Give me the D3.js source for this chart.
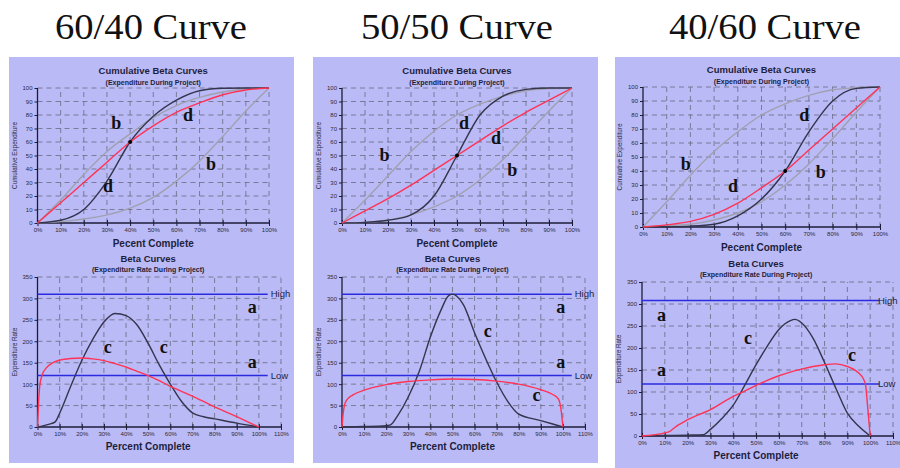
<!DOCTYPE html>
<html>
<head>
<meta charset="utf-8">
<script src="https://cdnjs.cloudflare.com/ajax/libs/d3/7.8.5/d3.min.js"></script>
<style>
  body { margin: 0; background: #fff; }
  svg { display: block; }
</style>
</head>
<body>
<svg id="chart" width="900" height="468"></svg>
<script>
// ---- data ----
const panelNames = ["60/40 Curve", "50/50 Curve", "40/60 Curve"];
const cumTicks = [0, 10, 20, 30, 40, 50, 60, 70, 80, 90, 100];
const pctTicksCum = [0, 10, 20, 30, 40, 50, 60, 70, 80, 90, 100];
const pctTicksRate = [0, 10, 20, 30, 40, 50, 60, 70, 80, 90, 100, 110];
const rateTicks = [0, 50, 100, 150, 200, 250, 300, 350];

// cumulative curves, [percent complete, cumulative expenditure]
const cum6040Early = [[0,0],[10,17],[20,36],[30,53],[40,66],[50,78],[60,87],[70,93],[80,97],[90,99.3],[100,100]];
const cum6040Late  = [[0,0],[10,1],[20,3],[30,6],[40,11],[50,19],[60,31],[70,46],[80,64],[90,83],[100,100]];
const cum6040Dark  = [[0,0],[10,2],[20,10],[30,31],[40,60],[50,79],[60,91],[70,98],[80,99.8],[90,100],[100,100]];
const cum6040Red   = [[0,0],[10,15],[20,30],[30,45],[40,60],[50,72],[60,82],[70,89],[80,95],[90,98.5],[100,100]];

const cum5050Early = [[0,0],[10,17],[20,35],[30,53],[40,68],[50,80],[60,88],[70,94],[80,98],[90,99.5],[100,100]];
const cum5050Late  = [[0,0],[10,0.5],[20,2],[30,6],[40,12],[50,20],[60,32],[70,47],[80,65],[90,83],[100,100]];
const cum5050Dark  = [[0,0],[10,0.5],[20,2],[30,6],[40,20],[50,50],[60,80],[70,94],[80,99],[90,100],[100,100]];
const cum5050Red   = [[0,0],[10,9],[20,18],[30,28],[40,39],[50,50],[60,61],[70,72],[80,82],[90,91],[100,100]];

const cum4060Early = [[0,0],[10,18],[20,37],[30,54],[40,68],[50,80],[60,88],[70,94],[80,98],[90,99.5],[100,100]];
const cum4060Late  = [[0,0],[10,1],[20,2],[30,5],[40,10],[50,18],[60,30],[70,45],[80,63],[90,82],[100,100]];
const cum4060Dark  = [[0,0],[10,0.2],[20,0.6],[30,2],[40,8],[50,20],[60,40],[70,68],[80,90],[90,99],[100,100]];
const cum4060Red   = [[0,0],[10,1.5],[20,4],[30,9],[40,17],[50,28],[60,40],[70,55],[80,70],[90,85],[100,100]];

// expenditure rate curves, [percent complete, rate]
const rate6040Dark = [[0,0],[5,6],[8,12],[10,32],[15,95],[20,155],[25,205],[30,245],[35,265],[40,260],[45,238],[50,195],[55,145],[60,100],[65,60],[70,33],[75,24],[80,19],[90,9],[100,0]];
const rate6040Red  = [[0,0],[0.5,60],[1,95],[2,120],[4,138],[7,150],[10,156],[15,160],[20,161],[25,159],[30,155],[35,148],[40,140],[45,130],[50,120],[55,108],[60,95],[70,72],[80,47],[90,24],[100,0]];

const rate5050Dark = [[0,0],[10,1],[20,3],[22,5],[25,25],[30,70],[35,130],[40,210],[45,275],[48,305],[50,310],[52,305],[55,285],[60,220],[65,160],[70,105],[75,60],[80,30],[90,15],[100,0]];
const rate5050Red  = [[0,0],[0.5,30],[1,48],[2,62],[5,75],[10,86],[20,99],[30,106],[40,110],[50,112],[60,111],[70,107],[80,100],[90,87],[95,77],[98,65],[99.3,35],[100,0]];

const rate4060Dark = [[0,0],[10,1],[20,2],[27,3],[30,15],[35,40],[40,70],[45,115],[50,162],[55,205],[60,242],[65,262],[67,265],[70,257],[75,222],[80,167],[85,108],[90,52],[95,22],[100,0]];
const rate4060Red  = [[0,0],[10,7],[12,10],[15,22],[20,37],[30,60],[40,90],[45,102],[50,115],[60,137],[70,152],[80,162],[85,164],[90,158],[95,143],[97,130],[98,115],[99,60],[100,0]];

// High / Low rate levels
const levelNames = ["High", "Low"];
const levels6040 = [310, 120];
const levels5050 = [310, 120];
const levels4060 = [308, 118];

// crossing points of the cumulative curves
const crossPoints = [[40, 60], [50, 50], [60, 40]];

// letter annotations: [letter, percent, value]
const cumLabels6040 = [["b",34,74],["d",65,80],["d",30.5,27],["b",75,44]];
const cumLabels5050 = [["d",53,74],["d",67,63],["b",18.5,50],["b",74,39]];
const cumLabels4060 = [["d",68,80],["b",18,45],["b",75,39],["d",38,29]];
const rateLabels6040 = [["a",97,281],["c",31.7,187],["c",57,187],["a",97,151]];
const rateLabels5050 = [["a",99,281],["c",66,224],["a",99,151],["c",88,74]];
const rateLabels4060 = [["a",8.5,275],["c",46.5,222],["c",92,184],["a",8.5,150]];

// ---- layout ----
const panels = [
  { name: panelNames[0], titleX: 151, box: [9, 57, 285, 406],
    cum: { x: [37.5, 269], y: [223, 88] }, rate: { x: [37.5, 281], y: [427, 277] },
    cumSeries: [cum6040Early, cum6040Late, cum6040Dark, cum6040Red],
    rateSeries: [rate6040Dark, rate6040Red], levels: levels6040,
    cumLabels: cumLabels6040, rateLabels: rateLabels6040, cross: crossPoints[0] },
  { name: panelNames[1], titleX: 457, box: [313, 57, 285, 406],
    cum: { x: [342, 572], y: [223, 88] }, rate: { x: [342, 585], y: [427, 277] },
    cumSeries: [cum5050Early, cum5050Late, cum5050Dark, cum5050Red],
    rateSeries: [rate5050Dark, rate5050Red], levels: levels5050,
    cumLabels: cumLabels5050, rateLabels: rateLabels5050, cross: crossPoints[1] },
  { name: panelNames[2], titleX: 765, box: [615, 57, 285, 411],
    cum: { x: [643, 880], y: [227, 87] }, rate: { x: [642, 893], y: [436, 282] },
    cumSeries: [cum4060Early, cum4060Late, cum4060Dark, cum4060Red],
    rateSeries: [rate4060Dark, rate4060Red], levels: levels4060,
    cumLabels: cumLabels4060, rateLabels: rateLabels4060, cross: crossPoints[2] }
];

const panelFill = "#babaf7";
const gridColor = "#6a6a80";
const axisColor = "#1c1c38";
const lightCurve = "#a0a0b0";
const darkCurve = "#34344c";
const redCurve = "#ff3355";
const blueLine = "#2b2be0";
const sans = "'Liberation Sans', Arial, sans-serif";
const serif = "'Liberation Serif', 'Times New Roman', serif";

const svg = d3.select("#chart");
const svgWidth = +svg.attr("width");

// draws one small chart (grid, axes, texts) and returns its scales
function drawFrame(g, area, xDomain, xTicks, yDomain, yTicks, t) {
  const x = d3.scaleLinear().domain(xDomain).range(area.x);
  const y = d3.scaleLinear().domain(yDomain).range(area.y);
  const left = area.x[0], right = area.x[1], bottom = area.y[0], top = area.y[1];

  // dashed grid
  g.append("g").selectAll("line").data(xTicks.slice(1)).join("line")
    .attr("x1", d => x(d)).attr("x2", d => x(d))
    .attr("y1", bottom).attr("y2", top)
    .attr("stroke", gridColor).attr("stroke-width", 0.8).attr("stroke-dasharray", "5,4");
  g.append("g").selectAll("line").data(yTicks.slice(1)).join("line")
    .attr("x1", left).attr("x2", right)
    .attr("y1", d => y(d)).attr("y2", d => y(d))
    .attr("stroke", gridColor).attr("stroke-width", 0.8).attr("stroke-dasharray", "5,4");

  // axes
  const xAxis = g.append("g").attr("transform", `translate(0,${bottom})`)
    .call(d3.axisBottom(x).tickValues(xTicks).tickSize(3).tickFormat(d => d + "%"));
  xAxis.selectAll(".tick line").attr("y1", -3).attr("y2", 3);
  xAxis.selectAll("text").attr("dy", 0).attr("y", t.tickDy);

  const yAxis = g.append("g").attr("transform", `translate(${left},0)`)
    .call(d3.axisLeft(y).tickValues(yTicks).tickSize(3));
  yAxis.selectAll("text").attr("x", -5);

  [xAxis, yAxis].forEach(a => {
    a.select(".domain").attr("stroke", axisColor).attr("stroke-width", 1.3);
    a.selectAll(".tick line").attr("stroke", axisColor).attr("stroke-width", 1);
    a.selectAll("text").attr("font-family", sans).attr("font-size", 6).attr("fill", "#2a2a3a");
  });
  xAxis.select(".domain").attr("d", `M${left},0H${right}`);
  yAxis.select(".domain").attr("d", `M0,${bottom}V${top}`);

  // titles
  const cx = (left + x(100)) / 2;
  g.append("text").attr("x", cx).attr("y", top + t.titleDy)
    .attr("text-anchor", "middle").attr("font-family", sans).attr("font-weight", "bold")
    .attr("font-size", 9.5).attr("fill", "#1e1e3c").text(t.title);
  g.append("text").attr("x", cx).attr("y", top + t.subDy)
    .attr("text-anchor", "middle").attr("font-family", sans).attr("font-weight", "bold")
    .attr("font-size", 7).attr("fill", "#1e1e3c").text(t.sub);
  g.append("text").attr("x", cx).attr("y", bottom + t.xTitleDy)
    .attr("text-anchor", "middle").attr("font-family", sans).attr("font-weight", "bold")
    .attr("font-size", 10).attr("fill", "#1e1e3c").text(t.xTitle);
  g.append("text")
    .attr("transform", `translate(${left - 21},${(top + bottom) / 2}) rotate(-90)`)
    .attr("text-anchor", "middle").attr("font-family", sans)
    .attr("font-size", 6.3).attr("fill", "#2a2a3a").text(t.yTitle);

  return { x, y };
}

function drawLetters(g, sc, labels) {
  g.append("g").selectAll("text").data(labels).join("text")
    .attr("x", d => sc.x(d[1])).attr("y", d => sc.y(d[2])).attr("dy", "0.33em")
    .attr("text-anchor", "middle").attr("font-family", serif).attr("font-weight", "bold")
    .attr("font-size", 18).attr("fill", "#111").text(d => d[0]);
}

panels.forEach(p => {
  const g = svg.append("g");

  g.append("text").attr("x", p.titleX).attr("y", 39)
    .attr("text-anchor", "middle").attr("font-family", serif)
    .attr("font-size", 35).attr("fill", "#111")
    .attr("textLength", 192).attr("lengthAdjust", "spacingAndGlyphs")
    .text(p.name);

  g.append("rect").attr("x", p.box[0]).attr("y", p.box[1])
    .attr("width", p.box[2]).attr("height", p.box[3]).attr("fill", panelFill);

  // cumulative chart
  const cs = drawFrame(g, p.cum, [0, 100], pctTicksCum, [0, 100], cumTicks, {
    title: "Cumulative Beta Curves", sub: "(Expenditure During Project)",
    xTitle: "Pecent Complete", yTitle: "Cumulative Expenditure",
    titleDy: -14, subDy: -3.5, tickDy: 9, xTitleDy: 24
  });
  const cumLine = d3.line().x(d => cs.x(d[0])).y(d => cs.y(d[1])).curve(d3.curveMonotoneX);
  const cumColors = [lightCurve, lightCurve, darkCurve, redCurve];
  g.append("g").selectAll("path").data(p.cumSeries).join("path")
    .attr("d", cumLine).attr("fill", "none")
    .attr("stroke", (d, i) => cumColors[i]).attr("stroke-width", 1.4);
  g.append("circle").attr("cx", cs.x(p.cross[0])).attr("cy", cs.y(p.cross[1]))
    .attr("r", 2).attr("fill", "#000");
  drawLetters(g, cs, p.cumLabels);

  // expenditure rate chart
  const rs = drawFrame(g, p.rate, [0, 110], pctTicksRate, [0, 350], rateTicks, {
    title: "Beta Curves", sub: "(Expenditure Rate During Project)",
    xTitle: "Percent Complete", yTitle: "Expenditure Rate",
    titleDy: -15, subDy: -5, tickDy: 9, xTitleDy: 23
  });
  g.append("g").selectAll("line").data(p.levels).join("line")
    .attr("x1", rs.x(0)).attr("x2", rs.x(104))
    .attr("y1", d => rs.y(d)).attr("y2", d => rs.y(d))
    .attr("stroke", blueLine).attr("stroke-width", 1.5);
  // keep the High/Low labels inside the picture
  const labelX = Math.min(rs.x(104) + 3, svgWidth - 22);
  g.append("g").selectAll("text").data(p.levels).join("text")
    .attr("x", labelX).attr("y", d => rs.y(d)).attr("dy", "0.35em")
    .attr("font-family", sans).attr("font-size", 9.5).attr("fill", "#1e1e3c")
    .text((d, i) => levelNames[i]);
  const rateLine = d3.line().x(d => rs.x(d[0])).y(d => rs.y(d[1])).curve(d3.curveMonotoneX);
  const rateColors = [darkCurve, redCurve];
  g.append("g").selectAll("path").data(p.rateSeries).join("path")
    .attr("d", rateLine).attr("fill", "none")
    .attr("stroke", (d, i) => rateColors[i]).attr("stroke-width", 1.4);
  drawLetters(g, rs, p.rateLabels);
});
</script>
</body>
</html>
